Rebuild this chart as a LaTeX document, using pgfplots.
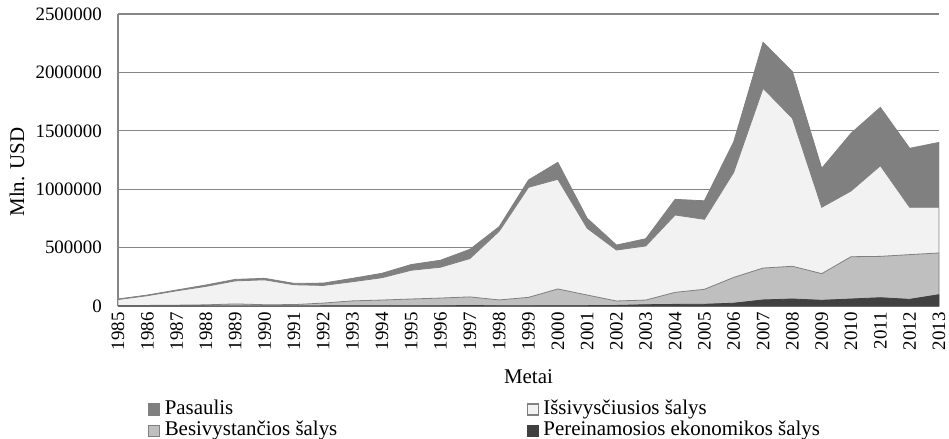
\documentclass[border=0pt]{standalone}
\usepackage{fontspec}
\setmainfont{Liberation Serif}
\usepackage{pgfplots}
\pgfplotsset{compat=1.18}
\definecolor{cWorld}{HTML}{808080}
\definecolor{cDev}{HTML}{F2F2F2}
\definecolor{cDing}{HTML}{BFBFBF}
\definecolor{cTrans}{HTML}{404040}
\definecolor{cGrid}{HTML}{868686}
\pgfplotstableread{
year world developed developing transition
1985 60000 55000 4000 0
1986 94000 88000 5000 0
1987 137000 130000 7000 0
1988 180000 168000 10000 0
1989 228000 215000 18000 0
1990 237000 224000 11000 0
1991 194000 182000 12000 0
1992 196000 176000 25000 1000
1993 237000 208000 44000 1000
1994 280000 242000 51000 2000
1995 355000 306000 60000 2000
1996 392000 332000 68000 2000
1997 485000 406000 78000 4000
1998 679000 640000 52000 2000
1999 1079000 1016000 74000 2000
2000 1230000 1085000 146000 3000
2001 751000 666000 94000 3000
2002 522000 479000 43000 5000
2003 576000 514000 51000 11000
2004 913000 779000 117000 14000
2005 901000 742000 143000 15000
2006 1407000 1145000 245000 24000
2007 2258000 1864000 325000 52000
2008 2006000 1607000 340000 60000
2009 1179000 845000 277000 49000
2010 1479000 985000 422000 60000
2011 1701000 1201000 425000 71000
2012 1350000 845000 440000 57000
2013 1401000 845000 454000 97000
}\datatable
\begin{document}
\begin{tikzpicture}
\useasboundingbox (0,0) rectangle (949bp,-439bp);
\begin{axis}[
  at={(118bp,-306bp)}, anchor=south west,
  scale only axis, width=821bp, height=292bp,
  xmin=1985, xmax=2013, ymin=0, ymax=2500000,
  xtick={1985,1986,1987,1988,1989,1990,1991,1992,1993,1994,1995,1996,1997,1998,1999,2000,2001,2002,2003,2004,2005,2006,2007,2008,2009,2010,2011,2012,2013},
  xticklabels={1985,1986,1987,1988,1989,1990,1991,1992,1993,1994,1995,1996,1997,1998,1999,2000,2001,2002,2003,2004,2005,2006,2007,2008,2009,2010,2011,2012,2013},
  ytick={0,500000,1000000,1500000,2000000,2500000},
  yticklabels={0,500000,1000000,1500000,2000000,2500000},
  scaled y ticks=false,
  major tick length=0pt,
  axis x line*=bottom, axis y line*=left,
  axis line style={draw=cGrid, line width=1.2bp},
  ymajorgrids, grid style={draw=cGrid, line width=1.2bp},
  xticklabel style={rotate=90, anchor=east, inner sep=6bp, font=\fontsize{19}{21}\selectfont},
  yticklabel style={anchor=east, inner sep=0pt, xshift=-16bp, font=\fontsize{19}{21}\selectfont},
  xlabel={Metai},
  xlabel style={at={(axis description cs:0.5,-0.242)}, anchor=center, font=\fontsize{21}{23}\selectfont},
  ylabel={Mln. USD},
  ylabel style={at={(axis description cs:-0.123,0.459)}, anchor=center, font=\fontsize{21}{23}\selectfont},
  legend columns=2,
  legend cell align=left,
  legend image code/.code={\draw[#1, line width=1.2bp] (0bp,-5.5bp) rectangle (11bp,5.5bp); \path (14bp,0bp);},
  legend style={at={(axis description cs:0.033,-0.31)}, anchor=north west,
    draw=none, fill=none, font=\fontsize{21}{22}\selectfont,
    row sep=0bp,
    nodes={inner sep=1.5bp, text height=14bp, text depth=4.5bp},
    /tikz/every even column/.append style={column sep=188bp}},
]
\addplot[fill=cWorld, draw=cWorld, line width=0.8bp] table[x=year, y=world] {\datatable} \closedcycle;
\addlegendentry{Pasaulis}
\addplot[fill=cDev, draw=cWorld, line width=0.8bp] table[x=year, y=developed] {\datatable} \closedcycle;
\addlegendentry{Išsivysčiusios šalys}
\addplot[fill=cDing, draw=cWorld, line width=0.8bp] table[x=year, y=developing] {\datatable} \closedcycle;
\addlegendentry{Besivystančios šalys}
\addplot[fill=cTrans, draw=cTrans, line width=0.8bp] table[x=year, y=transition] {\datatable} \closedcycle;
\addlegendentry{Pereinamosios ekonomikos šalys}
\end{axis}
\end{tikzpicture}
\end{document}
